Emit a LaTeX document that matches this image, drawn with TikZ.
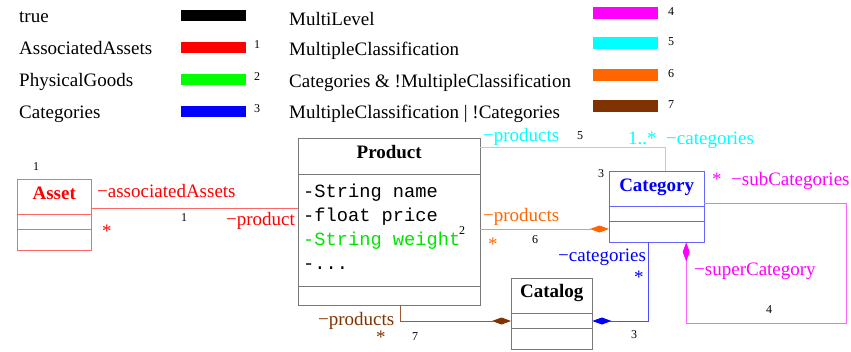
\documentclass[tikz,border=0pt]{standalone}
\usepackage{fontspec}
\setmainfont{Liberation Serif}
\setmonofont{Liberation Mono}
\usepackage{tikz}
\usetikzlibrary{arrows.meta, positioning, calc}
\definecolor{fmred}     {RGB}{255,   0,   0}
\definecolor{fmgreen}   {RGB}{  0, 255,   0}
\definecolor{fmblue}    {RGB}{  0,   0, 255}
\definecolor{fmmagenta} {RGB}{255,   0, 255}
\definecolor{fmcyan}    {RGB}{  0, 255, 255}
\definecolor{fmorange}  {RGB}{255, 102,   0}
\definecolor{fmbrown}   {RGB}{128,  51,   0}
\definecolor{fmgrey}    {RGB}{120, 120, 120}

\begin{document}
\begin{tikzpicture}[x=1pt,y=-1pt,
    every node/.style={inner sep=0pt, font=\fontsize{19}{22}\selectfont},
    num/.style={font=\fontsize{12}{14}\selectfont, anchor=base west},
    lbl/.style={anchor=base west},
    attr/.style={anchor=base west, font=\fontsize{18.7}{22}\ttfamily},
    classbox/.style={draw, anchor=north west, minimum width=#1, minimum height=71pt},
    classname/.style={anchor=base, font=\fontsize{19}{22}\selectfont\bfseries},
    assoc/.style={line width=0.8pt},
    comp/.style={-{Diamond[length=19pt,width=7pt,color=#1]}}]
    \useasboundingbox (0,0) rectangle (851,351);
    % legend
    \foreach \t/\c/\y/\n in {true/black/22/, AssociatedAssets/fmred/54/1,
        PhysicalGoods/fmgreen/86/2, Categories/fmblue/118/3}{
        \node[lbl] (leg\c) at (19,\y) {\t};
        \fill[\c] (181,\y-12) rectangle (246,\y-1);
        \node[num] (legnum\c) at (254,\y-6) {\n};
    }
    \foreach \t/\c/\y/\n in {MultiLevel/fmmagenta/25/4, MultipleClassification/fmcyan/55/5,
        {Categories \& !MultipleClassification}/fmorange/87/6,
        {MultipleClassification | !Categories}/fmbrown/118/7}{
        \node[lbl] (leg\c) at (289,\y) {\t};
        \fill[\c] (593,\y-18) rectangle (658,\y-6);
        \node[num] (legnum\c) at (668,\y-10) {\n};
    }
    % classes
    \node[classbox=74pt, fmred!60] (asset) at (17,179) {};
    \node[classbox=182pt, minimum height=167pt, fmgrey] (product) at (298,138) {};
    \node[classbox=95pt, fmblue!60] (category) at (609,171) {};
    \node[classbox=81pt, fmgrey] (catalog) at (511,278) {};
    \foreach \b/\c in {asset/fmred!60, category/fmblue!60, catalog/fmgrey}{
        \draw[\c] ([yshift=-35pt]\b.north west) -- ([yshift=-35pt]\b.north east);
        \draw[\c] ([yshift=-50pt]\b.north west) -- ([yshift=-50pt]\b.north east);
    }
    \draw[fmgrey] ([yshift=-36pt]product.north west) -- ([yshift=-36pt]product.north east);
    \draw[fmgrey] ([yshift=-148pt]product.north west) -- ([yshift=-148pt]product.north east);
    \node[classname, fmred] (assetname) at ([yshift=-20pt]asset.north) {Asset};
    \node[classname] (productname) at ([yshift=-20pt]product.north) {Product};
    \node[classname, fmblue] (categoryname) at ([yshift=-20pt]category.north) {Category};
    \node[classname] (catalogname) at ([yshift=-19pt]catalog.north) {Catalog};
    \node[attr] (aname) at (303,197) {-String name};
    \node[attr] (aprice) at (303,221) {-float price};
    \node[attr, text=fmgreen!90!black] (aweight) at (303,245) {-String weight};
    \node[attr] (amore) at (303,269) {-...};
    \node[num] (n2) at (459,234) {2};
    % associations
    \coordinate (ra) at ([yshift=-29pt]asset.north east);
    \draw[assoc, fmred!60] (ra) -- (ra -| product.west);
    \draw[assoc, fmcyan!70] ([yshift=-9pt]product.north east) -| ([xshift=9pt]category.north);
    \coordinate (oa) at ([yshift=-91pt]product.north east);
    \draw[assoc, comp=fmorange, fmorange!70] (oa) -- (oa -| category.west);
    \draw[assoc, comp=fmblue, fmblue!70] ([xshift=-8.5pt]category.south) |- ([yshift=-43pt]catalog.north east);
    \draw[assoc, comp=fmbrown, fmbrown!80] ([xshift=11pt]product.south) |- ([yshift=-43pt]catalog.north west);
    \draw[assoc, comp=fmmagenta, fmmagenta!60] ([yshift=-32pt]category.north east) -- ++(142,0)
        -- ++(0,120) -| ([xshift=29.5pt]category.south);
    % role names and multiplicities
    \node[num] (n1a) at (33,170) {1};
    \node[lbl, fmred] (rassets) at (97,197) {−associatedAssets};
    \node[lbl, fmred] (sassets) at (102,237) {*};
    \node[num] (n1b) at (181,221) {1};
    \node[lbl, fmred] (rproduct) at (226,225) {−product};
    \node[lbl, fmcyan] (rprodc) at (483,141) {−products};
    \node[num] (n5) at (577,139) {5};
    \node[lbl, fmcyan] (rcatc) at (628,144) {1..*\enspace −categories};
    \node[num] (n3a) at (598,177) {3};
    \node[lbl, fmmagenta] (rsub) at (712,185) {*\enspace −subCategories};
    \node[lbl, fmmagenta] (rsuper) at (694,275) {−superCategory};
    \node[num] (n4) at (766,313) {4};
    \node[lbl, fmorange] (rprodo) at (483,221) {−products};
    \node[lbl, fmorange] (sprodo) at (488,250) {*};
    \node[num] (n6) at (532,243) {6};
    \node[lbl, fmblue] (rcatb) at (558,261) {−categories};
    \node[lbl, fmblue] (scatb) at (634,283) {*};
    \node[num] (n3b) at (631,338) {3};
    \node[lbl, fmbrown] (rprodb) at (318,325) {−products};
    \node[lbl, fmbrown] (sprodb) at (376,343) {*};
    \node[num] (n7) at (412,340) {7};
\end{tikzpicture}
\end{document}
